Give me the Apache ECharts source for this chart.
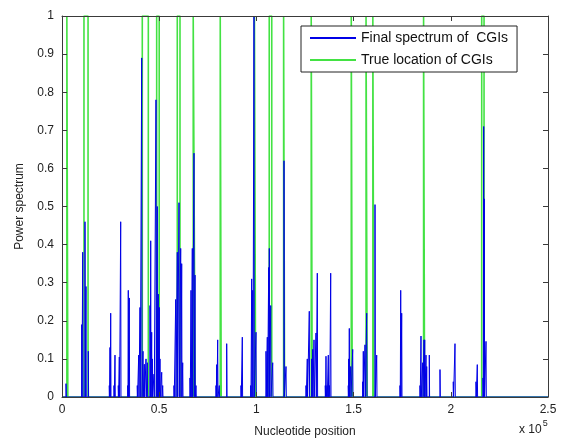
<!DOCTYPE html>
<html>
<head>
<meta charset="utf-8">
<script src="https://cdn.jsdelivr.net/npm/echarts@6/dist/echarts.min.js"></script>
<style>
  html, body { margin: 0; padding: 0; background: #fff; }
  #chart { width: 562px; height: 443px; }
</style>
</head>
<body>
<div id="chart"></div>
<script>
// spectrum spikes: [nucleotide position, power]
const spectrumPos = [
  2060, 10130, 10650, 11830, 12350, 13530, 24330, 24690, 25050, 26750, 27260,
  28960, 29480, 30190, 33800, 34100, 34620, 38730, 39450, 40120, 41000, 41670,
  42340, 43210, 43880, 45270, 45630, 46140, 46450, 47320, 48350, 49020, 49540,
  50050, 50410, 51290, 51800, 57610, 58490, 59310, 60180, 61060, 61570, 62090,
  65840, 66360, 67030, 67900, 68420, 68930, 79220, 79580, 80090, 80910, 84720,
  92080, 92750, 97070, 97580, 98100, 98760, 99790, 104940, 105610, 106330,
  106640, 107360, 108390, 114200, 115230, 125510, 126180, 127210, 128440,
  128960, 129630, 130660, 131330, 135440, 135800, 136320, 136990, 137600,
  138220, 147270, 147480, 147790, 148510, 149540, 154680, 154990, 155860,
  156740, 161010, 161880, 173870, 174230, 174740, 184150, 184670, 185540,
  186210, 186570, 187240, 187600, 188940, 194440, 201280, 202160, 212960,
  213630, 216560, 216920, 217230, 218110
];
const spectrumVal = [
  0.035, 0.19, 0.38, 0.46, 0.29, 0.12, 0.03, 0.13, 0.22, 0.03, 0.11,
  0.03, 0.105, 0.46, 0.03, 0.28, 0.26, 0.03, 0.11, 0.235, 0.89, 0.12,
  0.086, 0.1, 0.09, 0.24, 0.41, 0.17, 0.1, 0.06, 0.78, 0.5, 0.27,
  0.235, 0.1, 0.065, 0.03, 0.03, 0.256, 0.38, 0.51, 0.39, 0.35, 0.09,
  0.05, 0.28, 0.39, 0.64, 0.32, 0.03, 0.03, 0.085, 0.15, 0.03, 0.14,
  0.03, 0.157, 0.03, 0.31, 0.28, 1.0, 0.17, 0.12, 0.157, 0.34,
  0.39, 0.24, 0.09, 0.62, 0.08, 0.03, 0.1, 0.225, 0.1,
  0.125, 0.15, 0.168, 0.325, 0.03, 0.107, 0.03, 0.11, 0.03,
  0.325, 0.03, 0.1, 0.18, 0.08, 0.125, 0.04, 0.12, 0.137,
  0.22, 0.505, 0.11, 0.03, 0.28, 0.22, 0.03, 0.16, 0.09,
  0.15, 0.15, 0.11, 0.08, 0.11, 0.072, 0.04, 0.14, 0.04,
  0.085, 0.05, 0.71, 0.52, 0.146
];
// true CGI locations: start / end
const cgiStart = [2500, 11300, 41300, 48700, 59300, 67500, 81400, 99000, 106600, 114000, 128200, 148800, 156400, 159900, 186000, 215900];
const cgiEnd   = [3000, 13400, 44400, 50000, 60700, 68500, 81900, 99600, 107900, 114500, 128700, 149300, 157000, 160400, 186500, 217100];

const spikeW = 150;
const spectrumData = [[0, 0]];
spectrumPos.forEach((x, i) => {
  const h = spectrumVal[i];
  spectrumData.push([x, 0], [x, h], [x + spikeW, h], [x + spikeW, 0]);
});
spectrumData.push([250000, 0]);

const cgiData = [[0, 0]];
cgiStart.forEach((s, i) => {
  cgiData.push([s, 0], [s, 1], [cgiEnd[i], 1], [cgiEnd[i], 0]);
});
cgiData.push([250000, 0]);

const axisColor = '#3a3a3a';
const fontFam = 'Liberation Sans, Arial, sans-serif';
const labelFont = { fontFamily: fontFam, fontSize: 12, color: '#222' };
const boxLine = { onZero: false, lineStyle: { color: axisColor, width: 1 } };
const boxTick = { show: true, inside: true, length: 5, lineStyle: { color: axisColor } };

const chart = echarts.init(document.getElementById('chart'));
chart.setOption({
  animation: false,
  backgroundColor: '#fff',
  grid: { left: 62, right: 14, top: 16, bottom: 45 },
  legend: {
    left: 301,
    top: 26,
    orient: 'vertical',
    backgroundColor: '#fff',
    borderColor: '#222',
    borderWidth: 1,
    borderRadius: 0,
    padding: [5, 9, 5, 8],
    itemWidth: 46,
    itemHeight: 14,
    itemGap: 8,
    itemStyle: { opacity: 0 },
    textStyle: { fontFamily: fontFam, fontSize: 14, color: '#111' },
    data: ['Final spectrum of  CGIs', 'True location of CGIs']
  },
  xAxis: [{
    type: 'value',
    min: 0,
    max: 250000,
    interval: 50000,
    z: 10,
    name: 'Nucleotide position',
    nameLocation: 'middle',
    nameGap: 29,
    nameTextStyle: labelFont,
    axisLine: boxLine,
    axisTick: boxTick,
    axisLabel: Object.assign({ margin: 7, formatter: v => String(v / 100000) }, labelFont),
    splitLine: { show: false }
  }, {
    type: 'value',
    position: 'top',
    min: 0,
    max: 250000,
    interval: 50000,
    z: 10,
    axisLine: boxLine,
    axisTick: boxTick,
    axisLabel: { show: false },
    splitLine: { show: false }
  }],
  yAxis: [{
    type: 'value',
    min: 0,
    max: 1,
    interval: 0.1,
    z: 10,
    name: 'Power spectrum',
    nameLocation: 'middle',
    nameGap: 36,
    nameTextStyle: labelFont,
    axisLine: Object.assign({ show: true }, boxLine),
    axisTick: boxTick,
    axisLabel: Object.assign({ margin: 8, formatter: v => String(+v.toFixed(1)) }, labelFont),
    splitLine: { show: false }
  }, {
    type: 'value',
    position: 'right',
    min: 0,
    max: 1,
    interval: 0.1,
    z: 10,
    axisLine: Object.assign({ show: true }, boxLine),
    axisTick: boxTick,
    axisLabel: { show: false },
    splitLine: { show: false }
  }],
  series: [{
    name: 'Final spectrum of  CGIs',
    type: 'line',
    symbol: 'none',
    showSymbol: false,
    color: '#0000e6',
    lineStyle: { width: 1, color: '#0000e6' },
    data: spectrumData,
    z: 3
  }, {
    name: 'True location of CGIs',
    type: 'line',
    symbol: 'none',
    showSymbol: false,
    color: '#22dd22',
    lineStyle: { width: 1.6, color: '#22dd22', opacity: 0.85 },
    data: cgiData,
    z: 2
  }],
  graphic: [{
    type: 'text',
    left: 519,
    top: 419,
    style: {
      text: '{a|x 10}{b|5}',
      rich: {
        a: { fontFamily: fontFam, fontSize: 12, fill: '#222', verticalAlign: 'bottom' },
        b: { fontFamily: fontFam, fontSize: 9, fill: '#222', verticalAlign: 'top', padding: [0, 0, 8, 1] }
      }
    }
  }]
});

window.addEventListener('resize', function () {
  chart.resize();
});
</script>
</body>
</html>
